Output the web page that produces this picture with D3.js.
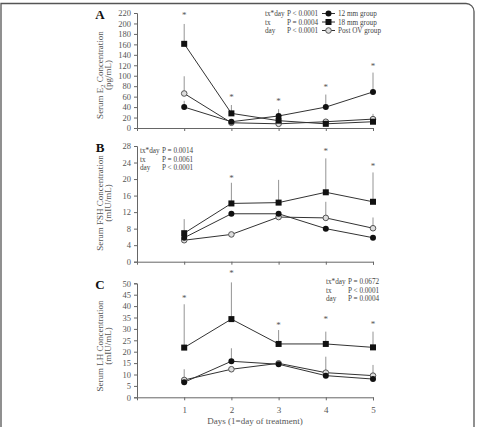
<!DOCTYPE html>
<html>
<head>
<meta charset="utf-8">
<script src="https://cdn.jsdelivr.net/npm/d3@7"></script>
<style>
  body { margin: 0; background: #fff; }
  svg text { font-family: "Liberation Serif", "DejaVu Serif", serif; }
</style>
</head>
<body>
<svg id="chart" width="482" height="427"></svg>
<script>
// ---- data ----
const DAYS = [1, 2, 3, 4, 5];
const GROUPS = ["12 mm group", "18 mm group", "Post OV group"];

// Panel A: serum E2 (pg/mL)
const e2_12 = [40, 12, 23, 40, 69];
const e2_18 = [161, 28, 14, 8, 12];
const e2_ov = [66, 10, 8, 12, 17];
const e2_err12 = [52, null, 36, 64, 106];
const e2_err18 = [199, 44, null, null, null];
const e2_errov = [99, null, null, null, 27];
const e2_star = [219, 63, 55, 82, 122];
const e2_ticks = [0, 20, 40, 60, 80, 100, 120, 140, 160, 180, 200, 220];
const e2_stats = [["tx*day", "P < 0.0001"], ["tx", "P = 0.0004"], ["day", "P < 0.0001"]];

// Panel B: serum FSH (mIU/mL)
const fsh_12 = [5.8, 11.6, 11.6, 8.0, 5.8];
const fsh_18 = [6.9, 14.1, 14.3, 16.8, 14.5];
const fsh_ov = [5.2, 6.6, 10.8, 10.6, 8.1];
const fsh_err12 = [null, null, null, null, null];
const fsh_err18 = [10.3, 19.1, 19.8, 25.0, 21.6];
const fsh_errov = [null, null, null, 14.5, 10.7];
const fsh_star = [null, 20.7, null, 27.2, 23.6];
const fsh_ticks = [0, 4, 8, 12, 16, 20, 24, 28];
const fsh_stats = [["tx*day", "P = 0.0014"], ["tx", "P = 0.0061"], ["day", "P < 0.0001"]];

// Panel C: serum LH (mIU/mL)
const lh_12 = [6.6, 15.8, 14.5, 9.5, 8.0];
const lh_18 = [21.8, 34.3, 23.4, 23.4, 21.9];
const lh_ov = [7.6, 12.3, 14.9, 10.8, 9.5];
const lh_err12 = [null, 21.5, null, null, null];
const lh_err18 = [40.8, 50.4, 29.5, 28.8, 28.8];
const lh_errov = [12.3, null, null, 17.8, 14.2];
const lh_star = [44.4, 55, 32.5, 34.9, 32.7];
const lh_ticks = [0, 5, 10, 15, 20, 25, 30, 35, 40, 45, 50];
const lh_stats = [["tx*day", "P = 0.0672"], ["tx", "P < 0.0001"], ["day", "P = 0.0004"]];

const svg = d3.select('#chart');
const INK = '#333', GREY = '#666';

// outer frame (rounded corner top-right)
svg.append('path')
  .attr('d', 'M1,430 V3.5 H466 A8,8 0 0 1 474,11.5 V430')
  .attr('fill', 'none').attr('stroke', '#555').attr('stroke-width', 1.3);

const x = d3.scaleLinear().domain([0, 5]).range([137, 373]);

const PANELS = [
  { letter: 'A', top: 13, bottom: 128, max: 220, ticks: e2_ticks,
    series: [e2_12, e2_18, e2_ov], errs: [e2_err12, e2_err18, e2_errov], stars: e2_star,
    label: ['Serum E', '2', ' Concentration'], unit: '(pg/mL)', labelY: 75,
    stats: e2_stats, statsX: 265, statsY: 16, legend: true },
  { letter: 'B', top: 146, bottom: 261.7, max: 28, ticks: fsh_ticks,
    series: [fsh_12, fsh_18, fsh_ov], errs: [fsh_err12, fsh_err18, fsh_errov], stars: fsh_star,
    label: ['Serum FSH Concentration'], unit: '(mIU/mL)', labelY: 203,
    stats: fsh_stats, statsX: 140, statsY: 153, legend: false },
  { letter: 'C', top: 283.3, bottom: 397.3, max: 50, ticks: lh_ticks,
    series: [lh_12, lh_18, lh_ov], errs: [lh_err12, lh_err18, lh_errov], stars: lh_star,
    label: ['Serum LH Concentration'], unit: '(mIU/mL)', labelY: 346,
    stats: lh_stats, statsX: 326, statsY: 284, legend: false, xLabels: true }
];

function marker(g, i, cx, cy) {
  if (i === 1) {
    g.append('rect').attr('x', cx - 3).attr('y', cy - 3).attr('width', 6).attr('height', 6)
      .attr('fill', '#111');
  } else if (i === 0) {
    g.append('circle').attr('cx', cx).attr('cy', cy).attr('r', 3).attr('fill', '#111');
  } else {
    g.append('circle').attr('cx', cx).attr('cy', cy).attr('r', 2.8)
      .attr('fill', '#ddd').attr('stroke', '#555').attr('stroke-width', 1);
  }
}

PANELS.forEach(p => {
  const y = d3.scaleLinear().domain([0, p.max]).range([p.bottom, p.top]);
  const g = svg.append('g');

  // y axis
  const ya = g.append('g').attr('transform', `translate(${x(0)},0)`)
    .call(d3.axisLeft(y).tickValues(p.ticks).tickSize(3).tickPadding(3));
  ya.select('.domain').attr('stroke', GREY);
  ya.selectAll('.tick line').attr('stroke', GREY);
  ya.selectAll('.tick text').attr('fill', '#555').style('font-size', '8.5px')
    .style('font-family', '"Liberation Serif", serif');

  // x axis
  const xa = g.append('g').attr('transform', `translate(0,${p.bottom})`)
    .call(d3.axisBottom(x).tickValues(DAYS).tickSize(3).tickPadding(6)
      .tickFormat(p.xLabels ? d3.format('d') : ''));
  xa.select('.domain').attr('stroke', GREY);
  xa.selectAll('.tick line').attr('stroke', GREY);
  xa.selectAll('.tick text').attr('fill', '#555').style('font-size', '9px')
    .style('font-family', '"Liberation Serif", serif');

  // error bars (upper only)
  p.errs.forEach((errs, i) => {
    DAYS.forEach((d, k) => {
      if (errs[k] == null) return;
      g.append('line').attr('x1', x(d)).attr('x2', x(d))
        .attr('y1', y(p.series[i][k])).attr('y2', y(errs[k]))
        .attr('stroke', '#888').attr('stroke-width', 0.9);
    });
  });

  // lines and markers (post OV drawn first, 12 mm on top)
  [2, 1, 0].forEach(i => {
    const line = d3.line().x((v, k) => x(DAYS[k])).y(v => y(v));
    g.append('path').attr('d', line(p.series[i]))
      .attr('fill', 'none').attr('stroke', INK).attr('stroke-width', 1);
  });
  [2, 1, 0].forEach(i => {
    p.series[i].forEach((v, k) => marker(g, i, x(DAYS[k]), y(v)));
  });

  // significance asterisks
  p.stars.forEach((s, k) => {
    if (s == null) return;
    g.append('text').attr('x', x(DAYS[k])).attr('y', y(s) + 4.5)
      .attr('text-anchor', 'middle').attr('fill', '#555').style('font-size', '9px').text('*');
  });

  // panel letter
  g.append('text').attr('x', 100).attr('y', p.top + 6).attr('text-anchor', 'middle')
    .style('font-size', '13px').style('font-weight', 'bold').attr('fill', '#111').text(p.letter);

  // y label, two lines
  const lab = g.append('text').attr('transform', `translate(103,${p.labelY}) rotate(-90)`)
    .attr('text-anchor', 'middle').attr('fill', '#555').style('font-size', '9px');
  p.label.forEach((t, j) => {
    const ts = lab.append('tspan').text(t);
    if (p.label.length > 1 && j === 1) ts.style('font-size', '6.5px').attr('dy', 2);
    if (p.label.length > 1 && j === 2) ts.attr('dy', -2);
  });
  g.append('text').attr('transform', `translate(111,${p.labelY}) rotate(-90)`)
    .attr('text-anchor', 'middle').attr('fill', '#555').style('font-size', '9px').text(p.unit);

  // stats text
  p.stats.forEach((s, j) => {
    const yy = p.statsY + j * 8.5;
    g.append('text').attr('x', p.statsX).attr('y', yy).attr('fill', '#444')
      .style('font-size', '7.2px').text(s[0]);
    g.append('text').attr('x', p.statsX + 22).attr('y', yy).attr('fill', '#444')
      .style('font-size', '7.2px').text(s[1]);
  });

  // legend
  if (p.legend) {
    GROUPS.forEach((name, i) => {
      const yy = p.statsY + i * 8.5 - 2.5;
      g.append('line').attr('x1', 322).attr('x2', 335).attr('y1', yy).attr('y2', yy)
        .attr('stroke', INK).attr('stroke-width', 1);
      marker(g, i, 328.5, yy);
      g.append('text').attr('x', 338).attr('y', yy + 2.5).attr('fill', '#444')
        .style('font-size', '7.2px').text(name);
    });
  }
});

// x axis title
svg.append('text').attr('x', 255).attr('y', 424).attr('text-anchor', 'middle')
  .attr('fill', '#555').style('font-size', '9px').text('Days (1=day of treatment)');
</script>
</body>
</html>
